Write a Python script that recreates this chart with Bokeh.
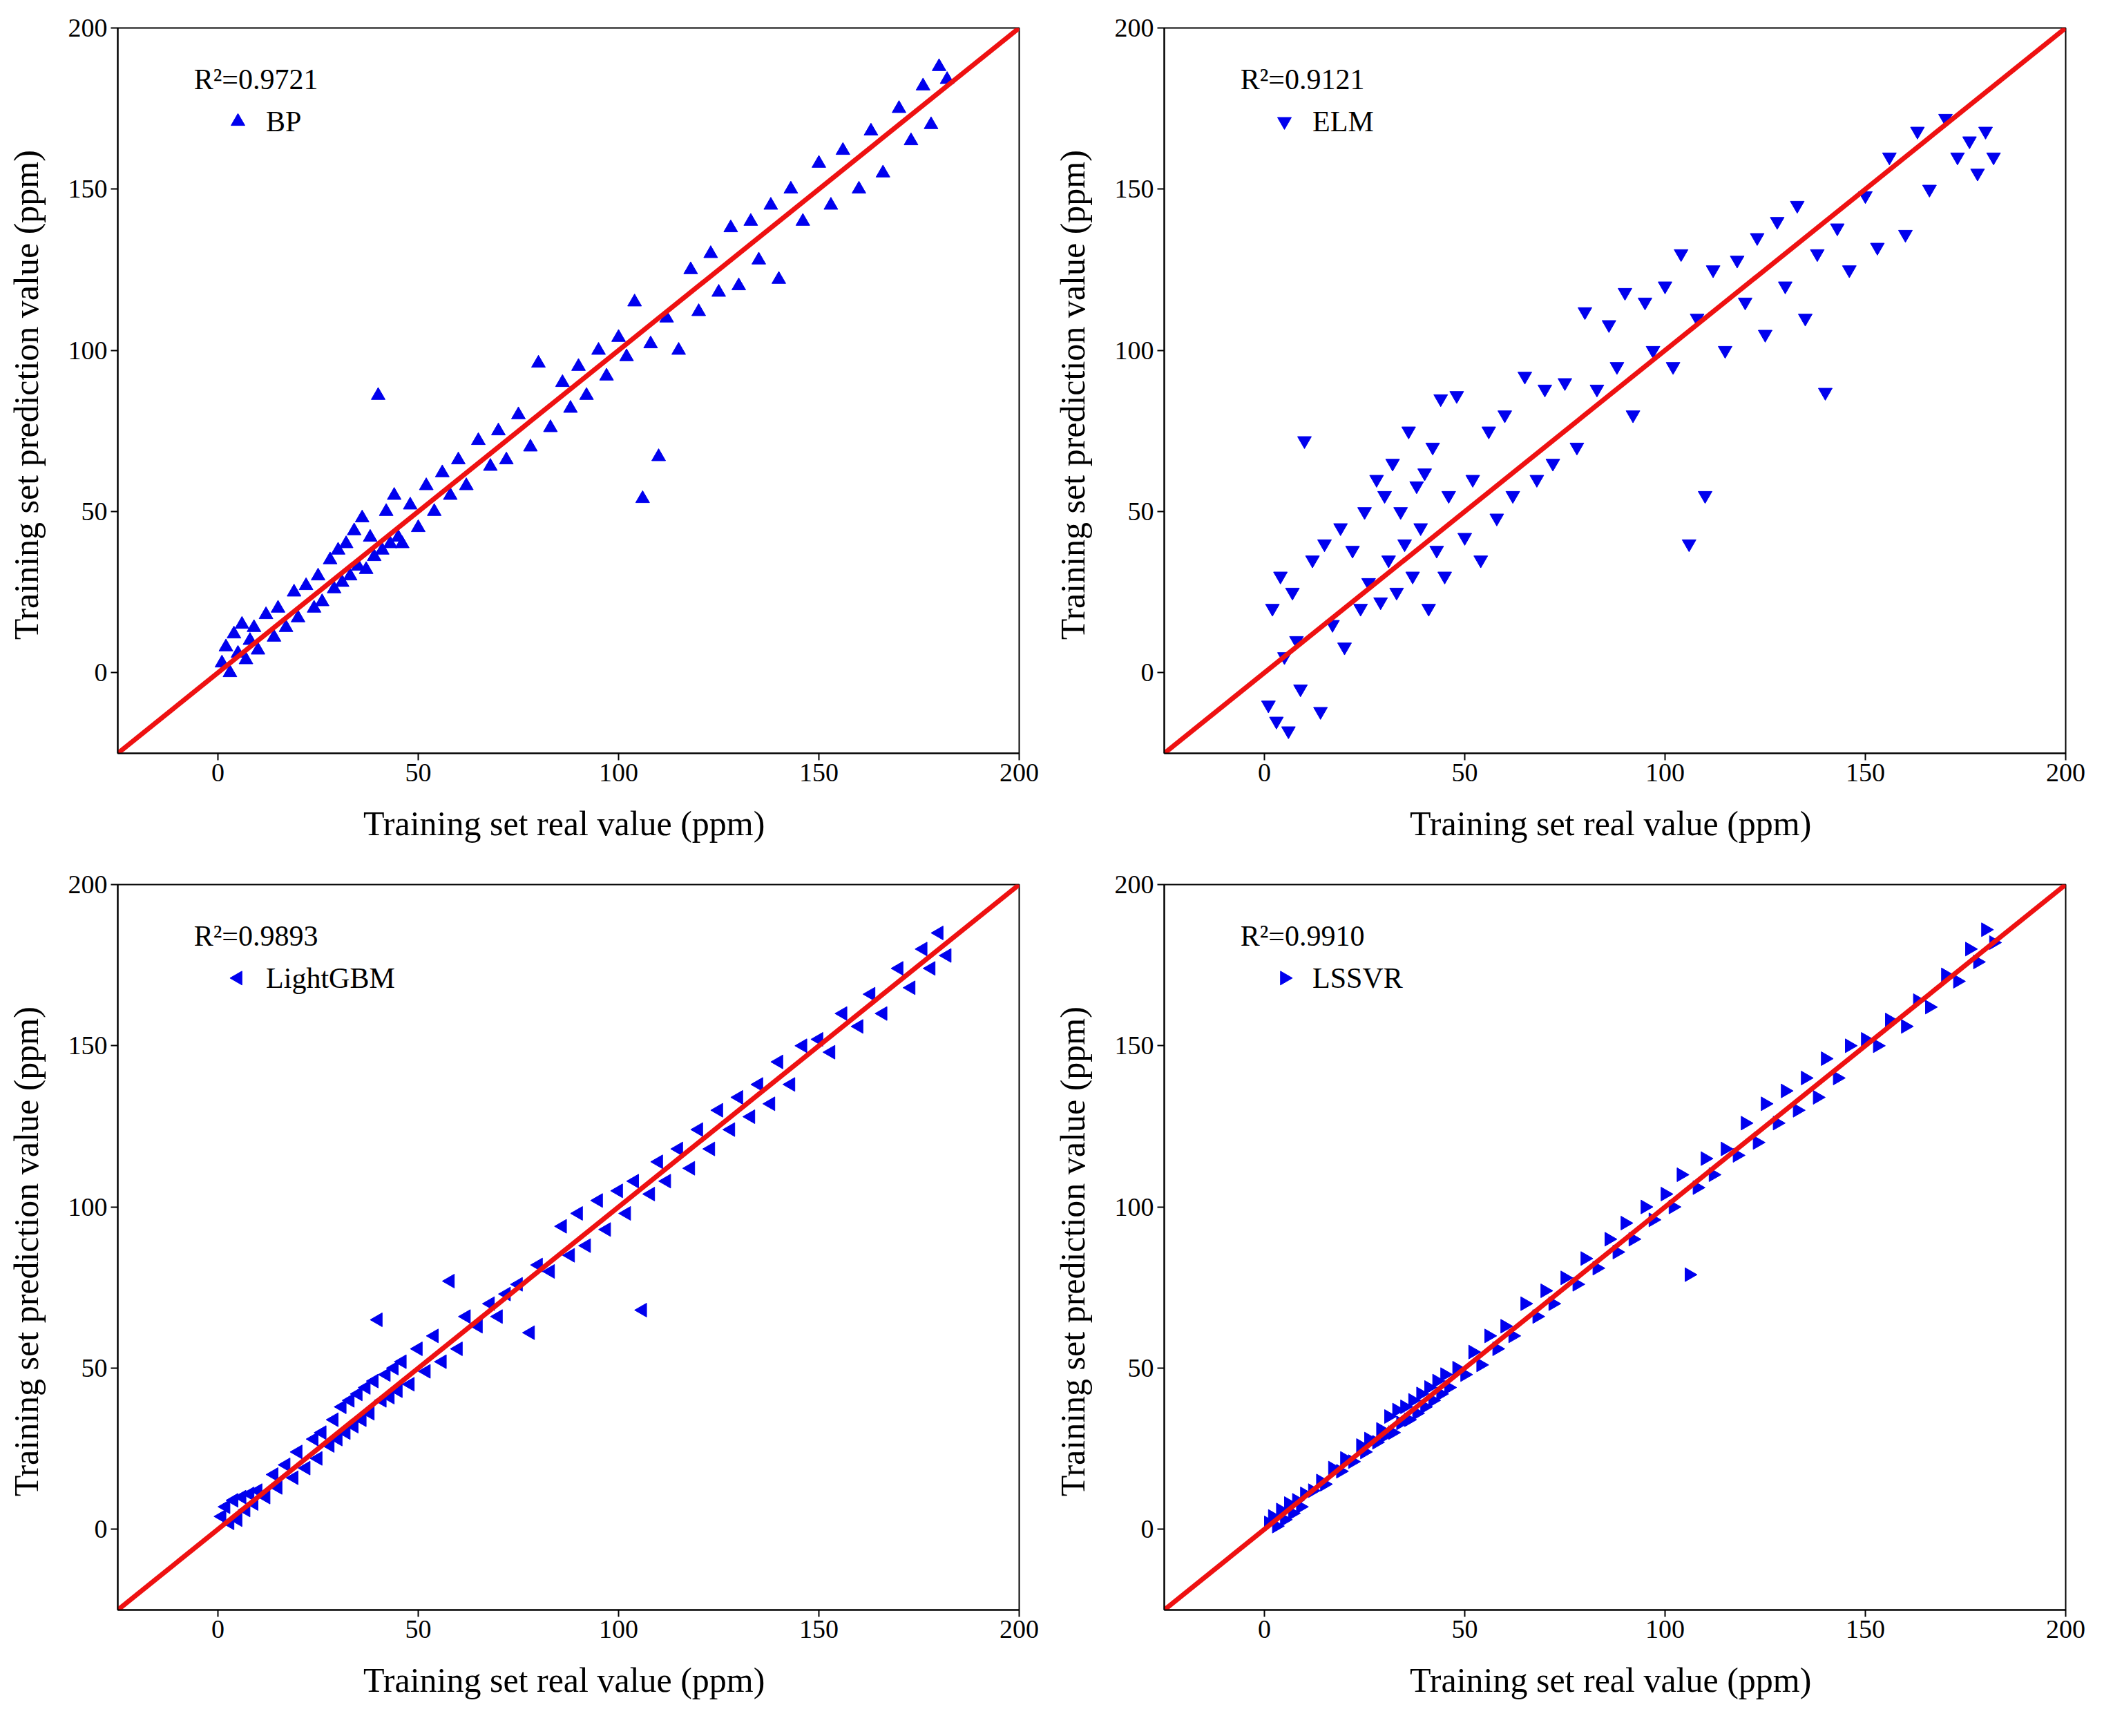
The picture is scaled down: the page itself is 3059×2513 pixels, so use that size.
import numpy as np
from bokeh.plotting import figure
from bokeh.layouts import gridplot
from bokeh.models import Label, FixedTicker, Range1d
from bokeh.embed import file_html
from bokeh.resources import INLINE

real = [1, 2, 3, 4, 5, 6, 7, 8, 9, 10, 12, 14, 15, 17, 19, 20, 22, 24, 25, 26, 28, 29, 30,
        31, 32, 33, 34, 35, 36, 37, 38, 39, 40, 41, 42, 43, 44, 45, 46, 48, 50, 52, 54, 56,
        58, 60, 62, 65, 68, 70, 72, 75, 78, 80, 83, 86, 88, 90, 92, 95, 97, 100, 102, 104,
        106, 108, 110, 112, 115, 118, 120, 123, 125, 128, 130, 133, 135, 138, 140, 143, 146,
        150, 153, 156, 160, 163, 166, 170, 173, 176, 178, 180, 182]

bp = [3, 8, 0, 12, 6, 15, 4, 10, 14, 7, 18, 11, 20, 14, 25, 17, 27, 20, 30, 22, 35, 26, 38,
      28, 40, 30, 44, 33, 48, 32, 42, 36, 86, 38, 50, 40, 55, 42, 40, 52, 45, 58, 50, 62,
      55, 66, 58, 72, 64, 75, 66, 80, 70, 96, 76, 90, 82, 95, 86, 100, 92, 104, 98, 115,
      54, 102, 67, 110, 100, 125, 112, 130, 118, 138, 120, 140, 128, 145, 122, 150, 140,
      158, 145, 162, 150, 168, 155, 175, 165, 182, 170, 188, 184]

elm = [-10, 20, -15, 30, 5, -18, 25, 10, -5, 72, 35, -12, 40, 15, 45, 8, 38, 20, 50, 28, 60, 22, 55,
       35, 65, 25, 50, 40, 75, 30, 58, 45, 62, 20, 70, 38, 85, 30, 55, 86, 42, 60, 35, 75,
       48, 80, 55, 92, 60, 88, 65, 90, 70, 112, 88, 108, 95, 118, 80, 115, 100, 120, 95, 130,
       40, 110, 55, 125, 100, 128, 115, 135, 105, 140, 120, 145, 110, 130, 87, 138, 125,
       148, 132, 160, 136, 168, 150, 172, 160, 165, 155, 168, 160]

lgbm = [4, 7, 2, 9, 3, 10, 6, 11, 8, 12, 10, 17, 13, 20, 16, 24, 19, 28, 22, 30, 26, 34, 28,
        38, 30, 40, 32, 42, 34, 44, 36, 46, 65, 40, 48, 41, 50, 43, 52, 45, 56, 49, 60, 52,
        77, 56, 66, 63, 70, 66, 73, 76, 61, 82, 80, 94, 85, 98, 88, 102, 93, 105, 98, 108,
        68, 104, 114, 108, 118, 112, 124, 118, 130, 124, 134, 128, 138, 132, 145, 138, 150,
        152, 148, 160, 156, 166, 160, 174, 168, 180, 174, 185, 178]

lssvr = [2, 4, 1, 6, 3, 8, 5, 9, 7, 11, 12, 15, 14, 19, 18, 22, 21, 26, 24, 28, 27, 31, 29,
         35, 30, 37, 33, 38, 34, 40, 36, 42, 38, 44, 40, 46, 42, 48, 44, 50, 48, 55, 51, 60,
         56, 63, 60, 70, 66, 74, 70, 78, 76, 84, 81, 90, 86, 95, 90, 100, 96, 104, 100, 110,
         79, 106, 115, 110, 118, 116, 126, 120, 132, 126, 136, 130, 140, 134, 146, 140, 150,
         152, 150, 158, 156, 164, 162, 172, 170, 180, 176, 186, 182]

models = ["BP", "ELM", "LightGBM", "LSSVR"]
preds = [bp, elm, lgbm, lssvr]
r2 = ["0.9721", "0.9121", "0.9893", "0.9910"]
angles = [0, np.pi, np.pi / 2, -np.pi / 2]
FONT = "Liberation Serif"
BLUE = "#0000ee"

figs = []
for name, pred, r, ang in zip(models, preds, r2, angles):
    p = figure(width=1515, height=1240, output_backend="svg", toolbar_location=None,
               x_range=Range1d(-25, 200), y_range=Range1d(-25, 200),
               min_border_left=170, min_border_bottom=150, min_border_top=40, min_border_right=40)
    p.grid.visible = False
    p.outline_line_color = "black"
    p.outline_line_width = 2
    for ax in (p.xaxis[0], p.yaxis[0]):
        ax.ticker = FixedTicker(ticks=[0, 50, 100, 150, 200])
        ax.major_label_text_font = FONT
        ax.major_label_text_font_size = "38px"
        ax.axis_label_text_font = FONT
        ax.axis_label_text_font_size = "50px"
        ax.axis_label_text_font_style = "normal"
        ax.axis_label_text_color = "black"
        ax.major_label_text_color = "black"
        ax.axis_line_width = 2
        ax.major_tick_line_width = 2
        ax.major_tick_out = 10
        ax.major_tick_in = 0
        ax.minor_tick_line_color = None
        ax.axis_label_standoff = 30
    p.xaxis.axis_label = "Training set real value  (ppm)"
    p.yaxis.axis_label = "Training set prediction value  (ppm)"
    p.scatter(real, pred, marker="triangle", angle=ang, size=20,
              fill_color=BLUE, line_color=BLUE)
    p.line([-25, 200], [-25, 200], line_color="#ee1111", line_width=7)
    # legend key drawn by hand so that the marker keeps its rotation
    p.scatter([5], [171], marker="triangle", angle=ang, size=20,
              fill_color=BLUE, line_color=BLUE)
    p.add_layout(Label(x=12, y=171, text=name, text_font=FONT, text_font_size="42px",
                       text_baseline="middle", text_color="black"))
    p.add_layout(Label(x=-6, y=184, text="R²=" + r, text_font=FONT, text_color="black",
                       text_font_size="42px", text_baseline="middle"))
    figs.append(p)

grid = gridplot([[figs[0], figs[1]], [figs[2], figs[3]]], toolbar_location=None)
open("out.html", "w").write(file_html(grid, INLINE))
